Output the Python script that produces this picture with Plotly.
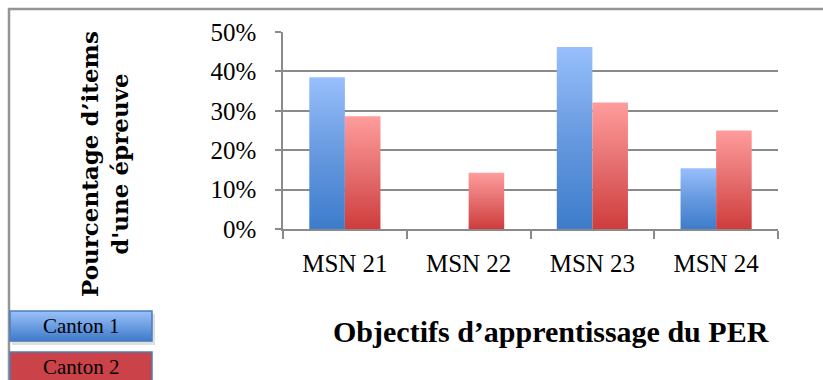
import plotly.graph_objects as go

# Data: share of test items per learning objective
categories = ["MSN 21", "MSN 22", "MSN 23", "MSN 24"]
canton_1 = [0.385, 0.0, 0.462, 0.154]
canton_2 = [0.286, 0.143, 0.321, 0.250]
series_names = ["Canton 1", "Canton 2"]
y_ticks = [0.0, 0.1, 0.2, 0.3, 0.4, 0.5]

# Styling
BAR_W = 0.2875
OFFSETS = [-BAR_W / 2, BAR_W / 2]
GRADIENTS = [
    [[0, "#3D7CCB"], [0.5, "#6699DF"], [1, "#98BFFC"]],
    [[0, "#CF3C3C"], [0.5, "#E56E6E"], [1, "#FF9C9C"]],
]
GRID = "#8A8A8A"

fig = go.Figure()

# Each bar is a filled rectangle so it can carry a vertical gradient
for s, values in enumerate([canton_1, canton_2]):
    for i, v in enumerate(values):
        if v <= 0:
            continue
        x0 = i + OFFSETS[s] - BAR_W / 2
        x1 = i + OFFSETS[s] + BAR_W / 2
        fig.add_trace(go.Scatter(
            x=[x0, x1, x1, x0, x0],
            y=[0, 0, v, v, 0],
            mode="lines",
            line=dict(width=0),
            fill="toself",
            fillgradient=dict(type="vertical", colorscale=GRADIENTS[s]),
            name=series_names[s],
            showlegend=False,
            hoverinfo="skip",
        ))

# Plot-area geometry in pixels (for placing the outer decorations)
W, H = 823, 380
L, R, T, B = 283, 45, 32, 151
pw, ph = W - L - R, H - T - B


def px(x):
    return (x - L) / pw


def py(y):
    return (H - B - y) / ph


shapes = []
annotations = []

# Outer chart frame (runs off the right and bottom edges)
shapes.append(dict(type="rect", xref="paper", yref="paper",
                   x0=px(9), x1=px(840), y0=py(9), y1=py(400),
                   line=dict(color="#959595", width=2.5), layer="below"))

# Legend boxes: Canton 1 (gradient) and Canton 2 (solid)
box_x0, box_x1 = 10, 152
b1_top, b1_bot = 311, 341
b2_top, b2_bot = 352, 384

# soft shadow beneath the first box
shapes.append(dict(type="rect", xref="paper", yref="paper",
                   x0=px(box_x0 + 2), x1=px(box_x1 + 3),
                   y0=py(b1_bot + 4), y1=py(b1_top + 3),
                   line=dict(width=0), fillcolor="rgba(0,0,0,0.12)"))

n_strips = 30
top_rgb = (0x9A, 0xC0, 0xFA)
bot_rgb = (0x3F, 0x7C, 0xC9)
for k in range(n_strips):
    t = k / (n_strips - 1)
    c = tuple(round(top_rgb[j] + (bot_rgb[j] - top_rgb[j]) * t) for j in range(3))
    y_a = b1_top + (b1_bot - b1_top) * k / n_strips
    y_b = b1_top + (b1_bot - b1_top) * (k + 1) / n_strips
    shapes.append(dict(type="rect", xref="paper", yref="paper",
                       x0=px(box_x0), x1=px(box_x1), y0=py(y_b + 0.3), y1=py(y_a),
                       line=dict(width=0), fillcolor="rgb(%d,%d,%d)" % c))
shapes.append(dict(type="rect", xref="paper", yref="paper",
                   x0=px(box_x0), x1=px(box_x1), y0=py(b1_bot), y1=py(b1_top),
                   line=dict(color="#4A7EBB", width=1.5)))
shapes.append(dict(type="rect", xref="paper", yref="paper",
                   x0=px(box_x0), x1=px(box_x1), y0=py(b2_bot), y1=py(b2_top),
                   line=dict(color="#4A7EBB", width=1.5), fillcolor="#CB4349"))

legend_font = dict(family="Liberation Serif", size=21, color="#000000")
annotations.append(dict(text=series_names[0], xref="paper", yref="paper",
                        x=px((box_x0 + box_x1) / 2), y=py((b1_top + b1_bot) / 2),
                        xanchor="center", yanchor="middle",
                        showarrow=False, font=legend_font))
annotations.append(dict(text=series_names[1], xref="paper", yref="paper",
                        x=px((box_x0 + box_x1) / 2), y=py(367),
                        xanchor="center", yanchor="middle",
                        showarrow=False, font=legend_font))

# Axis titles
annotations.append(dict(text="Pourcentage d’items<br>d'une épreuve",
                        xref="paper", yref="paper", x=px(104), y=py(164),
                        xanchor="center", yanchor="middle",
                        textangle=-90, showarrow=False,
                        font=dict(family="DejaVu Serif", size=23, color="#000000",
                                  weight="bold")))
annotations.append(dict(text="Objectifs d’apprentissage du PER",
                        xref="paper", yref="paper", x=px(551), y=py(331),
                        xanchor="center", yanchor="middle",
                        showarrow=False,
                        font=dict(family="Liberation Serif", size=30, color="#000000",
                                  weight="bold")))

fig.update_layout(
    width=W, height=H,
    margin=dict(l=L, r=R, t=T, b=B),
    paper_bgcolor="#FFFFFF",
    plot_bgcolor="#FFFFFF",
    showlegend=False,
    shapes=shapes,
    annotations=annotations,
    xaxis=dict(
        range=[-0.5, 3.5],
        tickvals=list(range(len(categories))),
        ticktext=categories,
        ticks="",
        showgrid=False,
        zeroline=False,
        showline=True, linecolor=GRID, linewidth=1.5,
        tickfont=dict(family="Liberation Serif", size=25, color="#000000"),
        ticklabelstandoff=11,
        minor=dict(ticks="outside", ticklen=8, tickcolor=GRID, tickwidth=1.5,
                   tick0=0.5, dtick=1, showgrid=False),
        fixedrange=True,
    ),
    yaxis=dict(
        range=[0, 0.5],
        tickvals=y_ticks,
        tickformat=".0%",
        ticks="outside", ticklen=6, tickcolor=GRID, tickwidth=1.5,
        showgrid=True, gridcolor=GRID, gridwidth=1.5,
        zeroline=False,
        showline=True, linecolor=GRID, linewidth=1.5,
        tickfont=dict(family="Liberation Serif", size=25, color="#000000"),
        ticklabelstandoff=14,
        fixedrange=True,
    ),
)

fig.write_html("out.html")
